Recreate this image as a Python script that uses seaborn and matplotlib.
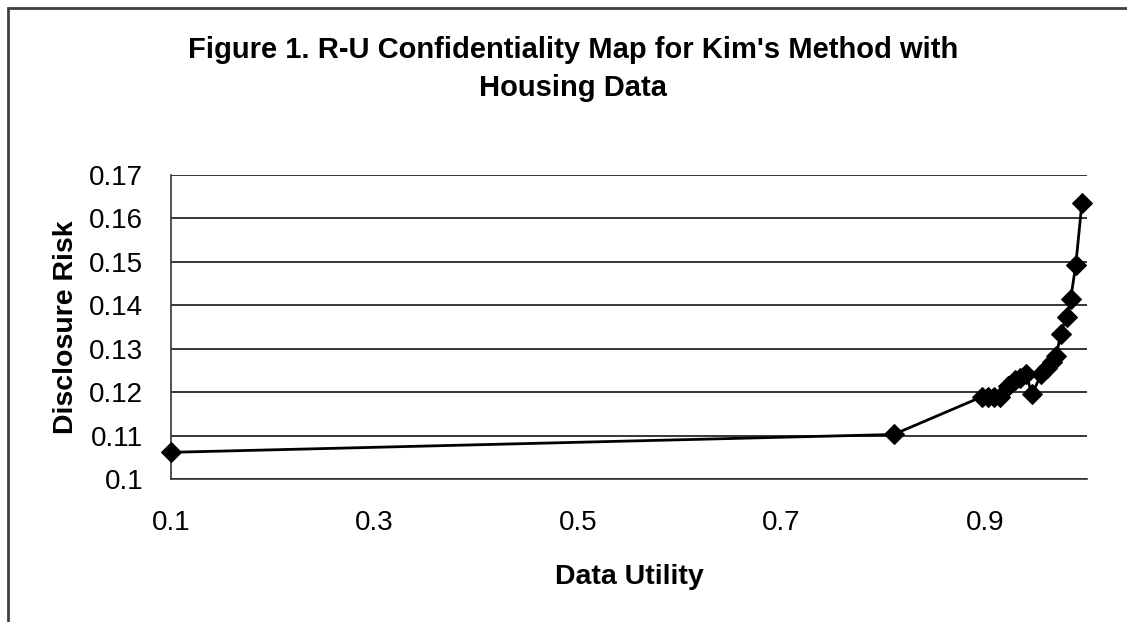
import matplotlib
matplotlib.use("Agg")
import matplotlib.pyplot as plt
import pandas as pd
import seaborn as sns
from matplotlib.patches import Rectangle

# values
data_utility = [0.10, 0.81, 0.897, 0.903, 0.909, 0.915, 0.922, 0.929, 0.934, 0.940,
                0.946, 0.955, 0.961, 0.966, 0.970, 0.974, 0.980, 0.984, 0.989, 0.995]
disclosure_risk = [0.1062, 0.1103, 0.1190, 0.1190, 0.1190, 0.1190, 0.1215, 0.1228, 0.1232, 0.1243,
                   0.1195, 0.1242, 0.1256, 0.1270, 0.1283, 0.1335, 0.1373, 0.1415, 0.1493, 0.1635]
x_ticks = [0.1, 0.3, 0.5, 0.7, 0.9]
y_ticks = [0.10, 0.11, 0.12, 0.13, 0.14, 0.15, 0.16, 0.17]
y_tick_labels = ["0.1", "0.11", "0.12", "0.13", "0.14", "0.15", "0.16", "0.17"]

df = pd.DataFrame({"utility": data_utility, "risk": disclosure_risk})

sns.set_style("white")
plt.rcParams["font.family"] = ["Liberation Sans", "DejaVu Sans"]
plt.rcParams["text.color"] = "black"
plt.rcParams["axes.labelcolor"] = "black"
plt.rcParams["xtick.color"] = "black"
plt.rcParams["ytick.color"] = "black"

fig = plt.figure(figsize=(11.27, 6.22), dpi=100)
ax = fig.add_axes([0.1516, 0.2294, 0.9645 - 0.1516, 0.7191 - 0.2294])

sns.lineplot(data=df, x="utility", y="risk", ax=ax, color="black", linewidth=2,
             marker="D", markersize=10, markeredgecolor="black", estimator=None, sort=False,
             clip_on=False, zorder=5)

ax.set_xlim(0.1, 1.0)
ax.set_ylim(0.1, 0.17)
ax.set_xticks(x_ticks)
ax.set_xticklabels([f"{t:g}" for t in x_ticks])
ax.set_yticks(y_ticks)
ax.set_yticklabels(y_tick_labels)
ax.tick_params(axis="both", labelsize=20, length=8, width=1, color="#333333",
               direction="out")
ax.tick_params(axis="y", pad=12)
ax.tick_params(axis="x", pad=14)
ax.yaxis.grid(True, color="black", linewidth=1.1)
ax.xaxis.grid(False)
for side in ["top", "right"]:
    ax.spines[side].set_visible(False)
for side in ["left", "bottom"]:
    ax.spines[side].set_color("#333333")
    ax.spines[side].set_linewidth(1.2)

ax.set_xlabel("Data Utility", fontsize=20.5, fontweight="bold", labelpad=20)
ax.set_ylabel("Disclosure Risk", fontsize=20.5, fontweight="bold", labelpad=7)

fig.text(573 / 1127, 1 - 69 / 622, "Figure 1. R-U Confidentiality Map for Kim's Method with\nHousing Data",
         ha="center", va="center", fontsize=21, fontweight="bold", linespacing=1.45)

# outer frame (only top and left visible in the reference)
fig.patches.append(Rectangle((8 / 1127, -0.1), 1.2, 1 - 8 / 622 + 0.1, transform=fig.transFigure,
                             fill=False, edgecolor="#404040", linewidth=2))

fig.savefig("out.png", dpi=100)
plt.close(fig)
